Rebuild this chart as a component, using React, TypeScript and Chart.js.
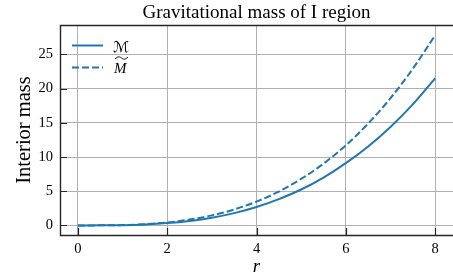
import React, { useEffect, useRef } from 'react';
import { Chart, registerables } from 'chart.js';

Chart.register(...registerables);

const chartTitle = 'Gravitational mass of I region';
const xAxisLabel = 'r';
const yAxisLabel = 'Interior mass';
const seriesNames = ['ℳ', 'M'];

const rValues = [0, 0.5, 1, 1.5, 2, 2.5, 3, 3.5, 4, 4.5, 5, 5.5, 6, 6.5, 7, 7.5, 8];
const massCal = [0, 0.01, 0.04, 0.14, 0.34, 0.66, 1.13, 1.8, 2.7, 3.85, 5.25, 7.0, 9.1, 11.55, 14.4, 17.7, 21.5];
const massTilde = [0, 0.01, 0.05, 0.18, 0.43, 0.85, 1.47, 2.33, 3.48, 4.95, 6.8, 9.03, 11.7, 14.9, 18.6, 22.9, 27.8];

const xTickValues = [0, 2, 4, 6, 8];
const yTickValues = [0, 5, 10, 15, 20, 25];

const SERIF = '"Liberation Serif", "DejaVu Serif", serif';
const LINE_COLOR = '#1f77b4';
const SPINE = '#262626';

const decorPlugin = {
  id: 'decor',
  afterDatasetsDraw(chart: any) {
    const { ctx, chartArea: a, scales } = chart;
    const xs = scales.x;
    const ys = scales.y;
    ctx.save();
    // inward ticks
    ctx.strokeStyle = SPINE;
    ctx.lineWidth = 1.2;
    ctx.beginPath();
    xTickValues.forEach((v) => {
      const px = Math.round(xs.getPixelForValue(v)) + 0.5;
      ctx.moveTo(px, a.bottom);
      ctx.lineTo(px, a.bottom - 7);
    });
    yTickValues.forEach((v) => {
      const py = Math.round(ys.getPixelForValue(v)) + 0.5;
      ctx.moveTo(a.left, py);
      ctx.lineTo(a.left + 7, py);
    });
    ctx.stroke();
    // spines (right spine falls at the canvas edge)
    ctx.lineWidth = 1.4;
    ctx.beginPath();
    ctx.moveTo(a.right, a.top + 0.5);
    ctx.lineTo(a.left + 0.5, a.top + 0.5);
    ctx.lineTo(a.left + 0.5, a.bottom + 0.5);
    ctx.lineTo(a.right, a.bottom + 0.5);
    ctx.stroke();

    // legend
    const ds = chart.data.datasets;
    const lx0 = a.left + 12;
    const lx1 = a.left + 43;
    const rows = [a.top + 20.5, a.top + 42.5];
    ds.forEach((d: any, i: number) => {
      ctx.strokeStyle = d.borderColor;
      ctx.lineWidth = d.borderWidth;
      ctx.setLineDash(d.borderDash || []);
      ctx.beginPath();
      ctx.moveTo(lx0, rows[i]);
      ctx.lineTo(lx1, rows[i]);
      ctx.stroke();
    });
    ctx.setLineDash([]);
    ctx.fillStyle = '#000';
    ctx.textBaseline = 'alphabetic';
    ctx.textAlign = 'left';
    ctx.font = '15px "DejaVu Sans", sans-serif';
    ctx.fillText(ds[0].label, a.left + 53, rows[0] + 6);
    ctx.font = 'italic 15px ' + SERIF;
    ctx.fillText(ds[1].label, a.left + 54, rows[1] + 5.5);
    // wide tilde over M
    const tx0 = a.left + 55;
    const tx1 = a.left + 68;
    const ty = rows[1] - 9.5;
    ctx.strokeStyle = '#000';
    ctx.lineWidth = 0.9;
    ctx.beginPath();
    ctx.moveTo(tx0, ty + 1);
    ctx.bezierCurveTo(tx0 + 3, ty - 2.2, tx0 + 5, ty - 1.2, (tx0 + tx1) / 2, ty);
    ctx.bezierCurveTo(tx1 - 5, ty + 1.2, tx1 - 3, ty + 2.2, tx1, ty - 1);
    ctx.stroke();

    // title
    ctx.font = '19px ' + SERIF;
    ctx.textAlign = 'center';
    ctx.fillText(chartTitle, (a.left + a.right) / 2, 17.5);
    ctx.restore();
  },
};

export default function App() {
  const ref = useRef<HTMLCanvasElement | null>(null);
  useEffect(() => {
    if (!ref.current) return;
    const chart = new Chart(ref.current, {
      type: 'line',
      data: {
        datasets: [
          {
            label: seriesNames[0],
            data: rValues.map((r, i) => ({ x: r, y: massCal[i] })),
            borderColor: LINE_COLOR,
            borderWidth: 2,
            pointRadius: 0,
            cubicInterpolationMode: 'monotone',
            fill: false,
          },
          {
            label: seriesNames[1],
            data: rValues.map((r, i) => ({ x: r, y: massTilde[i] })),
            borderColor: LINE_COLOR,
            borderWidth: 2,
            borderDash: [7, 3],
            pointRadius: 0,
            cubicInterpolationMode: 'monotone',
            fill: false,
          },
        ],
      },
      options: {
        animation: false,
        responsive: false,
        devicePixelRatio: 1,
        layout: { padding: { top: 25, left: 0, right: 0, bottom: 0 } },
        plugins: { legend: { display: false }, title: { display: false }, tooltip: { enabled: false } },
        scales: {
          x: {
            type: 'linear',
            min: -0.4,
            max: 8.4,
            afterBuildTicks: (s: any) => {
              s.ticks = xTickValues.map((v) => ({ value: v }));
            },
            afterFit: (s: any) => {
              s.height = 42;
            },
            grid: { color: '#b0b0b0', lineWidth: 1, drawTicks: false },
            border: { display: false },
            ticks: { color: '#000', padding: 5, font: { family: SERIF, size: 14.5 }, maxRotation: 0 },
            title: {
              display: true,
              text: xAxisLabel,
              color: '#000',
              font: { family: SERIF, size: 19, style: 'italic' },
              padding: { top: 0, bottom: -1 },
            },
          },
          y: {
            type: 'linear',
            min: -1.4,
            max: 29.3,
            afterBuildTicks: (s: any) => {
              s.ticks = yTickValues.map((v) => ({ value: v }));
            },
            afterFit: (s: any) => {
              s.width = 60;
            },
            grid: { color: '#b0b0b0', lineWidth: 1, drawTicks: false },
            border: { display: false },
            ticks: { color: '#000', padding: 7, font: { family: SERIF, size: 14.5 } },
            title: {
              display: true,
              text: yAxisLabel,
              color: '#000',
              font: { family: SERIF, size: 20.5 },
              padding: { top: 12, bottom: 0 },
            },
          },
        },
      },
      plugins: [decorPlugin],
    } as any);
    return () => chart.destroy();
  }, []);
  return (
    <div style={{ position: 'fixed', left: 0, top: 0, width: 453, height: 277, background: '#fff' }}>
      <canvas ref={ref} width={453} height={277} style={{ display: 'block' }} />
    </div>
  );
}
